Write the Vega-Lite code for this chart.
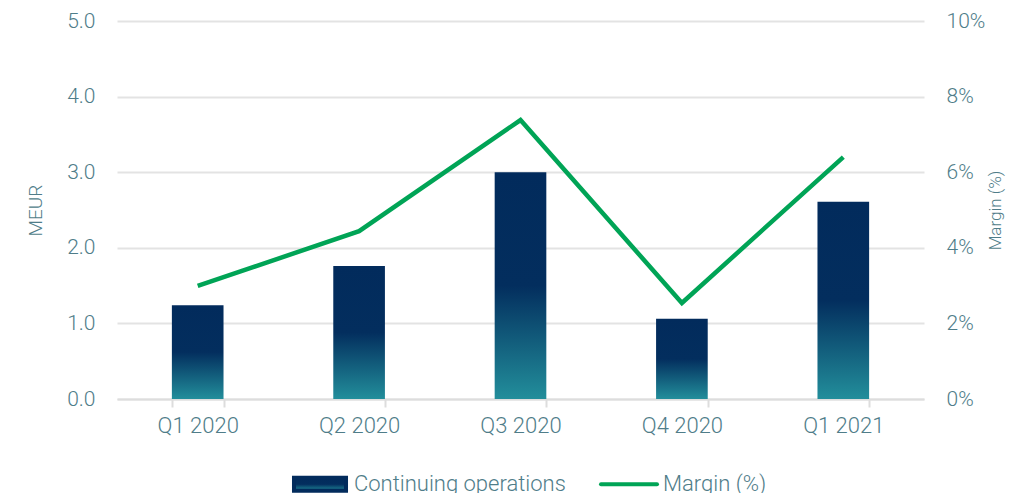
{
  "$schema": "https://vega.github.io/schema/vega-lite/v6.json",
  "width": 807,
  "height": 378,
  "autosize": {"type": "none"},
  "padding": {"left": 117, "top": 21, "right": 96, "bottom": 94},
  "config": {
    "view": {"stroke": null},
    "font": "Roboto",
    "axis": {"labelFont": "Roboto", "labelFontWeight": 300, "titleFont": "Roboto", "titleFontWeight": 300, "labelColor": "#4f7d89", "titleColor": "#4f7d89"},
    "legend": {"labelFont": "Roboto", "labelFontWeight": 300}
  },
  "data": {
    "values": [
      {"quarter": "Q1 2020", "meur": 1.24, "margin": 0.0299},
      {"quarter": "Q2 2020", "meur": 1.76, "margin": 0.0444},
      {"quarter": "Q3 2020", "meur": 3.0, "margin": 0.0738},
      {"quarter": "Q4 2020", "meur": 1.06, "margin": 0.0254},
      {"quarter": "Q1 2021", "meur": 2.61, "margin": 0.064}
    ]
  },
  "encoding": {
    "x": {
      "field": "quarter", "type": "nominal", "sort": null,
      "scale": {"paddingInner": 0.68, "paddingOuter": 0.34},
      "axis": {
        "title": null, "labelAngle": 0, "labelFontSize": 22, "labelPadding": 8,
        "domainColor": "#dddddd", "domainWidth": 2, "tickBand": "extent",
        "tickColor": "#dddddd", "tickWidth": 2, "tickSize": 8, "grid": false
      }
    }
  },
  "layer": [
    {
      "mark": {
        "type": "bar",
        "color": {
          "gradient": "linear", "x1": 0, "y1": 0, "x2": 0, "y2": 1,
          "stops": [
            {"offset": 0, "color": "#022b5c"},
            {"offset": 0.5, "color": "#032e5e"},
            {"offset": 1, "color": "#228e9b"}
          ]
        }
      },
      "encoding": {
        "y": {
          "field": "meur", "type": "quantitative",
          "scale": {"domain": [0, 5], "nice": false},
          "axis": {
            "title": "MEUR", "titleFontSize": 19, "titlePadding": 21,
            "values": [0, 1, 2, 3, 4, 5], "format": ".1f",
            "labelFontSize": 21, "labelPadding": 22,
            "domain": false, "ticks": false,
            "grid": true, "gridColor": "#e3e3e3", "gridWidth": 2
          }
        }
      }
    },
    {
      "mark": {"type": "line", "color": "#00a456", "strokeWidth": 4.5},
      "encoding": {
        "y": {
          "field": "margin", "type": "quantitative",
          "scale": {"domain": [0, 0.1], "nice": false},
          "axis": {
            "orient": "right", "title": "Margin (%)", "titleFontSize": 17, "titlePadding": 20, "titleAngle": 270,
            "values": [0, 0.02, 0.04, 0.06, 0.08, 0.1], "format": ".0%",
            "labelFontSize": 21, "labelPadding": 22,
            "domain": false, "ticks": false, "grid": false
          }
        },
        "color": {
          "datum": "Margin (%)",
          "scale": {"domain": ["Continuing operations", "Margin (%)"], "range": ["#022b5c", "#00a456"]},
          "legend": {
            "title": null, "orient": "none", "legendX": 173, "legendY": 433, "direction": "horizontal",
            "labelFontSize": 22, "labelColor": "#4f7d89", "labelOffset": 4, "labelLimit": 0,
            "columnPadding": 27, "symbolSize": 3136,
            "encode": {
              "symbols": {
                "update": {
                  "shape": {"signal": "datum.value === 'Margin (%)' ? 'M0,-0.232M-1,0H1M0,0.232' : 'M-0.929,-0.232H0.929V0.232H-0.929Z'"},
                  "fill": [
                    {"test": "datum.value === 'Margin (%)'", "value": "transparent"},
                    {"value": {"gradient": "linear", "x1": 0, "y1": 0, "x2": 0, "y2": 1, "stops": [{"offset": 0, "color": "#022b5c"}, {"offset": 0.5, "color": "#032e5e"}, {"offset": 1, "color": "#228e9b"}]}}
                  ],
                  "stroke": [
                    {"test": "datum.value === 'Margin (%)'", "value": "#00a456"},
                    {"value": "transparent"}
                  ],
                  "strokeWidth": {"value": 4},
                  "strokeCap": {"value": "round"},
                  "opacity": {"value": 1}
                }
              }
            }
          }
        }
      }
    }
  ],
  "resolve": {"scale": {"y": "independent"}}
}
